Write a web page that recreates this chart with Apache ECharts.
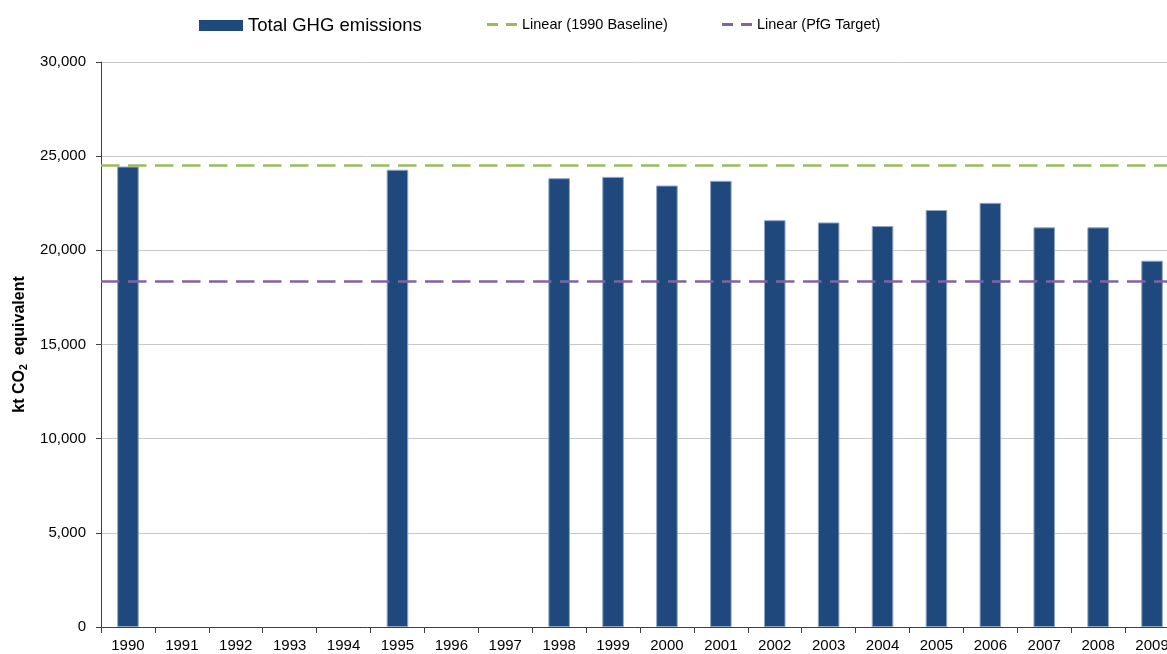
<!DOCTYPE html>
<html>
<head>
<meta charset="utf-8">
<script src="https://cdn.jsdelivr.net/npm/echarts@6/dist/echarts.min.js"></script>
<style>
html, body { margin: 0; padding: 0; background: #fff; }
#chart { width: 1167px; height: 654px; }
</style>
</head>
<body>
<div id="chart"></div>
<script>
// years on the x axis
var years = ['1990', '1991', '1992', '1993', '1994', '1995', '1996', '1997', '1998', '1999',
	'2000', '2001', '2002', '2003', '2004', '2005', '2006', '2007', '2008', '2009'];
// total GHG emissions, kt CO2 equivalent (no data for some years)
var totalGhg = [24450, null, null, null, null, 24280, null, null, 23830, 23900,
	23440, 23690, 21600, 21480, 21290, 22140, 22520, 21220, 21220, 19450];
var baseline1990 = 24500; // Linear (1990 Baseline)
var pfgTarget = 18375;    // Linear (PfG Target)
var yTicks = [0, 5000, 10000, 15000, 20000, 25000, 30000];

var chart = echarts.init(document.getElementById('chart'), null, { renderer: 'canvas' });

var dashIcon = 'path://M0,0H11V1H0Z M19,0H30V1H19Z';
var baseFont = "'Liberation Sans', Arial, sans-serif";
var lineLegendText = { color: '#000', fontFamily: baseFont, fontSize: 14.5 };

chart.setOption({
	animation: false,
	backgroundColor: '#fff',
	textStyle: { fontFamily: baseFont },
	legend: [{
		left: 199, top: 16, padding: 0,
		itemWidth: 44, itemHeight: 11,
		itemStyle: { borderWidth: 0 },
		textStyle: { color: '#000', fontFamily: baseFont, fontSize: 18.5 },
		data: [{ name: 'Total GHG emissions', icon: 'rect' }]
	}, {
		left: 487, top: 17, padding: 0,
		itemWidth: 30, itemHeight: 3, symbolKeepAspect: false,
		textStyle: lineLegendText,
		data: [{ name: 'Linear (1990 Baseline)', icon: dashIcon }]
	}, {
		left: 722, top: 17, padding: 0,
		itemWidth: 30, itemHeight: 3, symbolKeepAspect: false,
		textStyle: lineLegendText,
		data: [{ name: 'Linear (PfG Target)', icon: dashIcon }]
	}],
	grid: { left: 101, width: 1078, top: 62, bottom: 27, containLabel: false, outerBoundsMode: 'none' },
	xAxis: {
		type: 'category',
		data: years,
		boundaryGap: true,
		axisLine: { lineStyle: { color: '#404040', width: 1 } },
		axisTick: { show: true, length: 6, alignWithLabel: false, lineStyle: { color: '#404040' } },
		axisLabel: { color: '#000', fontSize: 15, margin: 11, interval: 0 },
		splitLine: { show: false }
	},
	yAxis: {
		type: 'value',
		min: yTicks[0],
		max: yTicks[yTicks.length - 1],
		interval: 5000,
		name: '{a|kt CO}{s|2}{a|  equivalent}',
		nameLocation: 'middle',
		nameGap: 71,
		nameTextStyle: {
			rich: {
				a: { fontSize: 16, fontWeight: 'bold', color: '#000', lineHeight: 19 },
				s: { fontSize: 10.5, fontWeight: 'bold', color: '#000', verticalAlign: 'bottom', lineHeight: 19 }
			}
		},
		axisLine: { show: true, lineStyle: { color: '#404040', width: 1 } },
		axisTick: { show: true, length: 5, lineStyle: { color: '#404040' } },
		axisLabel: {
			color: '#000', fontSize: 15, margin: 15,
			formatter: function (v) { return v.toLocaleString('en-US'); }
		},
		splitLine: { show: true, lineStyle: { color: '#c8c8c8', width: 1 } }
	},
	series: [{
		name: 'Total GHG emissions',
		type: 'bar',
		data: totalGhg,
		barWidth: '40%',
		itemStyle: { color: '#1F497D', borderColor: '#8ea6c6', borderWidth: 1 }
	}, {
		name: 'Linear (1990 Baseline)',
		type: 'line',
		data: [],
		color: '#9BBB59',
		itemStyle: { color: '#9BBB59' },
		lineStyle: { color: '#9BBB59' },
		markLine: {
			silent: true, symbol: 'none', label: { show: false },
			lineStyle: { color: '#9BBB59', width: 2.5, type: [18.5, 8.5] },
			data: [{ yAxis: baseline1990 }]
		}
	}, {
		name: 'Linear (PfG Target)',
		type: 'line',
		data: [],
		color: '#8064A2',
		itemStyle: { color: '#8064A2' },
		lineStyle: { color: '#8064A2' },
		markLine: {
			silent: true, symbol: 'none', label: { show: false },
			lineStyle: { color: '#8064A2', width: 2.5, type: [18.5, 8.5] },
			data: [{ yAxis: pfgTarget }]
		}
	}]
});
</script>
</body>
</html>
